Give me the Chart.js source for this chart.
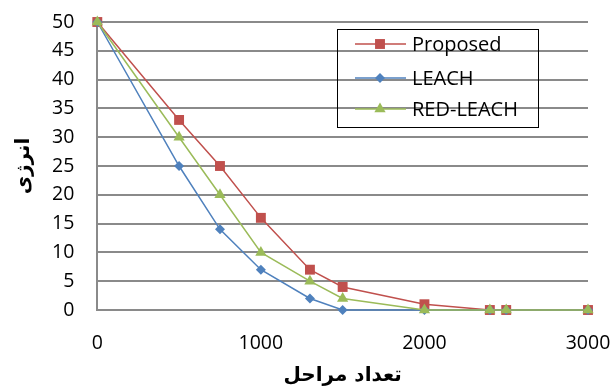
<!DOCTYPE html>
<html>
<head>
<meta charset="utf-8">
<script src="https://cdn.jsdelivr.net/npm/chart.js@4/dist/chart.umd.min.js"></script>
<style>
  html, body { margin: 0; padding: 0; background: #fff; }
  #wrap { width: 614px; height: 387px; position: relative; }
</style>
</head>
<body>
<div id="wrap"><canvas id="c" width="614" height="387"></canvas></div>
<script>
// Rounds (x) and remaining energy (y) for each protocol
const rounds = [0, 500, 750, 1000, 1300, 1500, 2000, 2400, 2500, 3000];
const proposed = [50, 33, 25, 16, 7, 4, 1, 0, 0, 0];
const leach = [50, 25, 14, 7, 2, 0, 0, 0, 0, 0];
const redLeach = [50, 30, 20, 10, 5, 2, 0, 0, 0, 0];
const seriesNames = ['Proposed', 'LEACH', 'RED-LEACH'];
const xTicks = [0, 1000, 2000, 3000];
const yTicks = [0, 5, 10, 15, 20, 25, 30, 35, 40, 45, 50];

const colors = ['#C0504D', '#4F81BD', '#9BBB59'];
const markers = [
  { style: 'rect', radius: 7 },
  { style: 'rectRot', radius: 5 },
  { style: 'triangle', radius: 6.5 }
];

function pts(ys) { return rounds.map((x, i) => ({ x: x, y: ys[i] })); }

const datasets = [proposed, leach, redLeach].map((ys, i) => ({
  label: seriesNames[i],
  data: pts(ys),
  showLine: true,
  borderColor: colors[i],
  backgroundColor: colors[i],
  borderWidth: 1.5,
  pointStyle: markers[i].style,
  pointRadius: markers[i].radius,
  pointHoverRadius: markers[i].radius,
  pointBorderWidth: 0,
  clip: false,
  order: 3 - i
}));

const tickFont = { family: '"Open Sans", "Liberation Sans", sans-serif', size: 19.5 };
const titleFont = { family: '"DejaVu Sans", sans-serif', size: 20, weight: 'bold', lineHeight: 1.2 };

// Boxed legend drawn inside the plot, with line + marker samples
const boxLegend = {
  id: 'boxLegend',
  afterDraw(chart) {
    const ctx = chart.ctx;
    const bx = 337, by = 29, bw = 201, bh = 98;
    ctx.save();
    ctx.strokeStyle = '#000';
    ctx.lineWidth = 1;
    ctx.strokeRect(bx + 0.5, by + 0.5, bw, bh);
    const rowsY = [44, 78, 109];
    chart.data.datasets.forEach((ds, i) => {
      const y = rowsY[i];
      ctx.strokeStyle = ds.borderColor;
      ctx.lineWidth = 1.5;
      ctx.beginPath();
      ctx.moveTo(355, y);
      ctx.lineTo(406, y);
      ctx.stroke();
      ctx.fillStyle = ds.backgroundColor;
      Chart.helpers.drawPoint(ctx, {
        pointStyle: ds.pointStyle, radius: ds.pointRadius, rotation: 0, borderWidth: 0
      }, 380, y);
      ctx.fillStyle = '#000';
      ctx.font = '20px "Open Sans", "Liberation Sans", sans-serif';
      ctx.textBaseline = 'middle';
      ctx.textAlign = 'left';
      ctx.fillText(ds.label, 412, y + 1);
    });
    ctx.restore();
  }
};

new Chart(document.getElementById('c'), {
  type: 'scatter',
  data: { datasets: datasets },
  plugins: [boxLegend],
  options: {
    responsive: false,
    animation: false,
    devicePixelRatio: 1,
    layout: { padding: { top: 22, right: 26, left: 0, bottom: 0 } },
    plugins: { legend: { display: false }, tooltip: { enabled: false } },
    scales: {
      x: {
        type: 'linear',
        min: 0, max: 3000,
        afterBuildTicks: (axis) => { axis.ticks = xTicks.map(v => ({ value: v })); },
        afterFit: (axis) => { axis.height = 77; axis.paddingLeft = 0; axis.paddingRight = 0; },
        grid: { display: false, drawTicks: false },
        border: { display: false },
        ticks: { font: tickFont, color: '#000', padding: 22, maxRotation: 0,
                 callback: (v) => String(v) },
        title: {
          display: true, text: 'تعداد مراحل', font: titleFont, color: '#000',
          padding: { top: 0, bottom: -1 }
        }
      },
      y: {
        min: 0, max: 50,
        afterBuildTicks: (axis) => { axis.ticks = yTicks.map(v => ({ value: v })); },
        afterFit: (axis) => { axis.paddingTop = 0; axis.paddingBottom = 0; },
        grid: { color: '#8a8a8a', lineWidth: 2, drawTicks: false },
        border: { display: true, color: '#8a8a8a', width: 2 },
        ticks: { font: tickFont, color: '#000', padding: 23, callback: (v) => String(v) },
        title: {
          display: true, text: 'انرژی', font: titleFont, color: '#000',
          padding: { top: 12, bottom: -7 }
        }
      }
    }
  }
});
</script>
</body>
</html>
